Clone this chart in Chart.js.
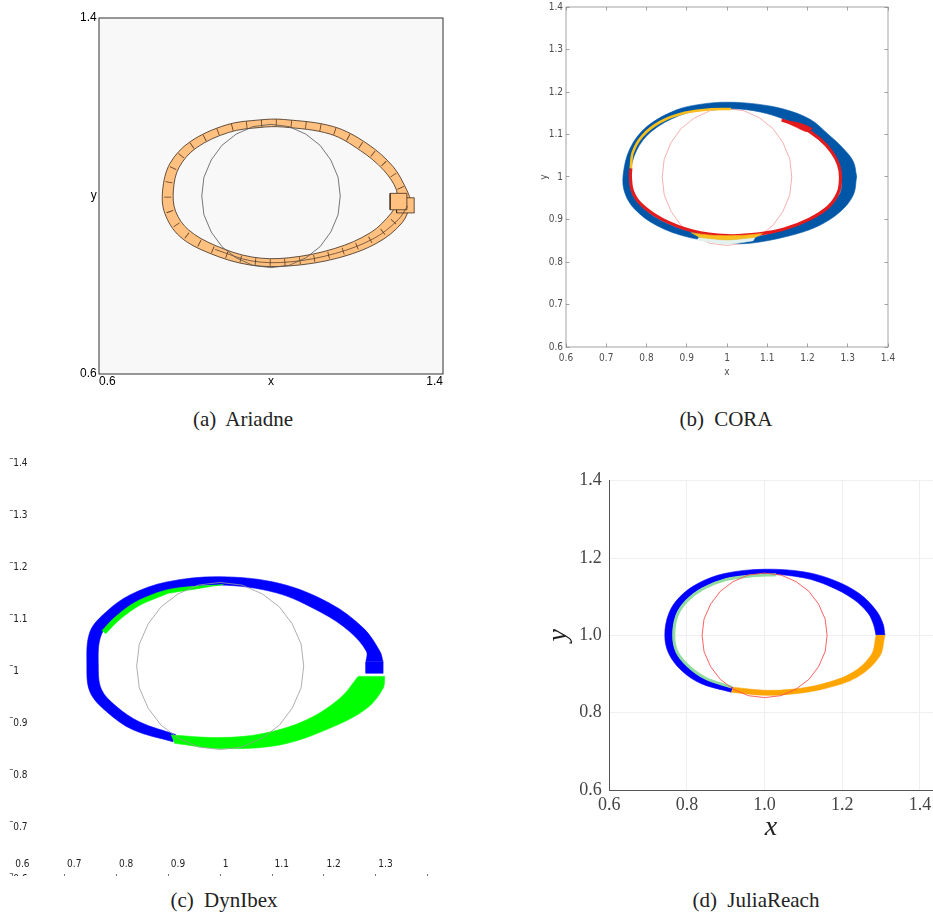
<!DOCTYPE html>
<html>
<head>
<meta charset="utf-8">
<script src="https://cdn.jsdelivr.net/npm/chart.js@4.4.1/dist/chart.umd.min.js"></script>
<style>
  body { margin: 0; background: #fff; width: 933px; height: 916px; position: relative; overflow: hidden; }
  canvas { position: absolute; }
  .caption { position: absolute; width: 240px; font-family: 'Liberation Serif', serif; font-size: 21px; line-height: 24px;
             color: #222; text-align: center; word-spacing: 5px; white-space: nowrap; }
</style>
</head>
<body>
<canvas id="ariadne" width="470" height="395" style="left:0;top:0"></canvas>
<canvas id="cora" width="400" height="390" style="left:520px;top:0"></canvas>
<canvas id="dynibex" width="430" height="436" style="left:0;top:440px"></canvas>
<canvas id="juliareach" width="403" height="391" style="left:530px;top:455px"></canvas>
<div class="caption" style="left:123px;top:407px">(a) Ariadne</div>
<div class="caption" style="left:606px;top:407px">(b) CORA</div>
<div class="caption" style="left:104px;top:888px">(c) DynIbex</div>
<div class="caption" style="left:636px;top:888px">(d) JuliaReach</div>
<script>
// initial set, the same circle in every panel
const circle = [[1.161,1.000],[1.156,1.042],[1.139,1.081],[1.114,1.114],[1.081,1.139],[1.042,1.156],[1.000,1.161],[0.958,1.156],
  [0.919,1.139],[0.886,1.114],[0.861,1.081],[0.844,1.042],[0.839,1.000],[0.844,0.958],[0.861,0.919],[0.886,0.886],[0.919,0.861],
  [0.958,0.844],[1.000,0.839],[1.042,0.844],[1.081,0.861],[1.114,0.886],[1.139,0.919],[1.156,0.958],[1.161,1.000]];

// (a) Ariadne
const ariadneTicks = [0.6, 1.0, 1.4];
const ariadneXLabels = ['0.6', 'x', '1.4'];
const ariadneYLabels = ['0.6', 'y', '1.4'];
const ariadneOuter = [[1.327,0.985],[1.316,1.013],[1.284,1.066],[1.223,1.118],[1.145,1.156],[1.029,1.172],[0.974,1.171],[0.897,1.160],
  [0.812,1.122],[0.765,1.073],[0.748,1.013],[0.753,0.961],[0.788,0.909],[0.858,0.871],[0.951,0.845],[1.044,0.843],[1.153,0.860],
  [1.246,0.894],[1.305,0.940],[1.327,0.985]];
const ariadneInner = [[1.290,0.985],[1.292,1.013],[1.262,1.058],[1.208,1.102],[1.138,1.139],[1.029,1.155],[0.974,1.154],[0.902,1.143],
  [0.826,1.108],[0.786,1.064],[0.773,1.013],[0.778,0.966],[0.808,0.924],[0.870,0.889],[0.955,0.863],[1.040,0.861],[1.148,0.882],
  [1.232,0.918],[1.280,0.962],[1.290,0.985]];
const ariadneBoxA = [[1.277,0.969],[1.316,0.969],[1.316,1.006],[1.277,1.006],[1.277,0.969]];
const ariadneBoxB = [[1.292,0.962],[1.333,0.962],[1.333,0.996],[1.292,0.996],[1.292,0.962]];
const ariadneFold = [[1.318,0.978],[1.296,0.947],[1.240,0.905],[1.150,0.871],[1.045,0.852],[0.955,0.854],[0.870,0.880]];

// (b) CORA
const coraOuter = [[1.322,1.001],[1.314,1.036],[1.289,1.067],[1.252,1.100],[1.206,1.136],[1.140,1.160],[1.070,1.172],[1.000,1.176],
  [0.941,1.172],[0.875,1.158],[0.800,1.118],[0.759,1.067],[0.742,1.005],[0.746,0.963],[0.770,0.925],[0.825,0.886],[0.905,0.858],
  [1.000,0.845],[1.057,0.844],[1.148,0.860],[1.223,0.883],[1.281,0.918],[1.314,0.958],[1.322,1.001]];
const coraInner = [[1.286,1.001],[1.279,1.030],[1.262,1.058],[1.232,1.085],[1.192,1.112],[1.130,1.140],[1.066,1.156],[1.000,1.161],
  [0.942,1.158],[0.880,1.144],[0.812,1.107],[0.775,1.062],[0.759,1.005],[0.762,0.966],[0.784,0.934],[0.835,0.898],[0.910,0.871],
  [1.000,0.858],[1.057,0.857],[1.140,0.876],[1.205,0.900],[1.250,0.930],[1.281,0.962],[1.286,1.001]];
const coraRed = [[1.136,1.134],[1.185,1.118],[1.230,1.090],[1.260,1.059],[1.277,1.029],[1.282,1.000],[1.277,0.965],[1.252,0.930],
  [1.205,0.901],[1.140,0.877],[1.080,0.866],[1.000,0.862],[0.915,0.873],[0.838,0.901],[0.786,0.936],[0.765,0.967],[0.760,1.000],[0.761,1.020]];
const coraSpike = [[1.136,1.134],[1.180,1.127],[1.212,1.114],[1.196,1.107],[1.170,1.118],[1.136,1.134]];
const coraYellow = [[0.761,1.020],[0.766,1.058],[0.790,1.097],[0.835,1.130],[0.895,1.151],[0.955,1.159],[1.010,1.160]];
const coraLensTop = [[0.910,0.869],[0.960,0.863],[1.000,0.862],[1.045,0.863],[1.088,0.867]];
const coraLensBottom = [[0.930,0.858],[1.000,0.852],[1.070,0.858]];
const coraGapBottom = [[0.925,0.852],[1.000,0.842],[1.065,0.850]];

// (c) DynIbex
const dynBox = [[1.281,0.986],[1.314,0.986],[1.314,1.008],[1.281,1.008],[1.281,0.986]];
const dynBlueOuter = [[1.314,1.008],[1.308,1.028],[1.276,1.073],[1.211,1.121],[1.115,1.159],[1.000,1.172],[0.897,1.162],[0.826,1.137],
  [0.781,1.105],[0.749,1.066],[0.743,1.002],[0.749,0.950],[0.781,0.912],[0.832,0.877],[0.909,0.854]];
const dynBlueInner = [[1.281,1.008],[1.282,1.028],[1.250,1.066],[1.195,1.103],[1.108,1.141],[1.000,1.156],[0.903,1.147],[0.838,1.123],
  [0.797,1.093],[0.770,1.058],[0.765,1.002],[0.771,0.955],[0.800,0.922],[0.845,0.892],[0.914,0.868]];
const dynGreenOuter = [[0.912,0.851],[1.000,0.841],[1.115,0.848],[1.211,0.880],[1.282,0.918],[1.314,0.957],[1.317,0.980]];
const dynGreenInner = [[0.905,0.867],[1.000,0.862],[1.083,0.870],[1.166,0.896],[1.231,0.938],[1.266,0.980]];
const dynStripOuter = [[0.772,1.068],[0.797,1.094],[0.838,1.124],[0.903,1.148],[1.006,1.157]];
const dynStripInner = [[0.779,1.062],[0.807,1.090],[0.845,1.117],[0.900,1.140]];

// (d) JuliaReach
const juliaOuter = [[1.310,1.000],[1.305,1.030],[1.287,1.065],[1.244,1.108],[1.180,1.142],[1.103,1.164],[1.000,1.171],[0.897,1.160],
  [0.828,1.134],[0.781,1.099],[0.753,1.056],[0.743,1.000],[0.753,0.953],[0.786,0.909],[0.837,0.875],[0.914,0.853],[1.000,0.845],
  [1.077,0.849],[1.154,0.862],[1.239,0.892],[1.296,0.945],[1.310,1.000]];
const juliaInner = [[1.287,1.000],[1.281,1.027],[1.266,1.058],[1.228,1.094],[1.170,1.126],[1.100,1.149],[1.000,1.158],[0.903,1.147],
  [0.840,1.124],[0.797,1.092],[0.771,1.052],[0.763,1.000],[0.771,0.958],[0.800,0.920],[0.846,0.889],[0.918,0.866],[1.000,0.858],
  [1.075,0.861],[1.148,0.874],[1.225,0.903],[1.275,0.950],[1.287,1.000]];
const juliaSplit = 15;
const juliaGreen = [[1.030,1.157],[0.960,1.153],[0.900,1.144],[0.840,1.120],[0.799,1.088],[0.774,1.050],[0.766,1.000],[0.774,0.958],
  [0.803,0.921],[0.848,0.889],[0.915,0.866]];

const narrow = "'Liberation Sans Narrow', 'DejaVu Sans Condensed', 'Liberation Sans', sans-serif";
const fmtTick = v => String(+v.toFixed(2));

function pts(list) {
  return list.map(p => ({x: p[0], y: p[1]}));
}
// closed region: outer edge forward, inner edge back
function band(outer, inner) {
  const o = pts(outer);
  const i = pts(inner).reverse();
  return o.concat([o[o.length - 1], i[0]], i);
}
function area(data, color, order, extra) {
  return Object.assign({type: 'line', data: data, fill: 'shape', backgroundColor: color, borderColor: color,
    borderWidth: 0.6, tension: 0.35, pointRadius: 0, order: order}, extra || {});
}
function curve(data, color, width, order, extra) {
  return Object.assign({type: 'line', data: data, fill: false, borderColor: color, borderWidth: width,
    tension: 0.35, pointRadius: 0, order: order}, extra || {});
}
function ring(color, width, order) {
  return curve(pts(circle), color, width, order, {tension: 0});
}
function fixSize(size) {
  return function (scale) {
    if (scale.isHorizontal()) scale.height = size; else scale.width = size;
    scale.paddingLeft = 0; scale.paddingRight = 0; scale.paddingTop = 0; scale.paddingBottom = 0;
  };
}
function baseOptions(padding, scales, frame) {
  return {
    responsive: false, animation: false, events: [],
    layout: {autoPadding: false, padding: padding},
    plugins: {legend: {display: false}, tooltip: {enabled: false}, frame: frame || {}},
    scales: scales
  };
}

// plot background and box
Chart.register({
  id: 'frame',
  beforeDraw(chart, args, opts) {
    if (!opts.background) return;
    const a = chart.chartArea, ctx = chart.ctx;
    ctx.save();
    ctx.fillStyle = opts.background;
    ctx.fillRect(a.left, a.top, a.right - a.left, a.bottom - a.top);
    ctx.restore();
  },
  afterDatasetsDraw(chart, args, opts) {
    if (!opts.color) return;
    const a = chart.chartArea, ctx = chart.ctx;
    ctx.save();
    ctx.strokeStyle = opts.color;
    ctx.lineWidth = opts.width || 1;
    ctx.strokeRect(a.left, a.top, a.right - a.left, a.bottom - a.top);
    ctx.restore();
  }
});

// ---------- (a) Ariadne ----------
const ariadneMid = ariadneOuter.map((p, k) => [(p[0] + ariadneInner[k][0]) / 2, (p[1] + ariadneInner[k][1]) / 2]);
const ariadneFont = {family: "'Liberation Sans', Arial, sans-serif", size: 12};
const boxStyle = {borderColor: '#3d2b1a', borderWidth: 0.8, tension: 0};
new Chart(document.getElementById('ariadne'), {
  type: 'line',
  data: {datasets: [
    ring('#555', 0.8, 0),
    curve(pts(ariadneFold), '#4a3320', 0.7, 1),
    area(pts(ariadneBoxA), '#ffc080', 2, boxStyle),
    area(pts(ariadneBoxB), '#ffc080', 2.5, boxStyle),
    curve(pts(ariadneMid), 'rgba(60,40,22,0.85)', 7, 3, {borderDash: [0.8, 14]}),
    area(band(ariadneOuter, ariadneInner), '#ffc080', 4, {borderColor: '#3d2b1a', borderWidth: 0.8})
  ]},
  options: baseOptions({left: 69, right: 27, top: 18, bottom: 1}, {
    x: {type: 'linear', min: 0.6, max: 1.4, afterFit: fixSize(20),
        afterBuildTicks: s => { s.ticks = ariadneTicks.map(v => ({value: v})); },
        grid: {display: false, drawTicks: false}, border: {display: false},
        ticks: {align: 'inner', padding: 0, color: '#000', font: ariadneFont, autoSkip: false,
                callback: (v, i) => ariadneXLabels[i]}},
    y: {type: 'linear', min: 0.6, max: 1.4, afterFit: fixSize(30),
        afterBuildTicks: s => { s.ticks = ariadneTicks.map(v => ({value: v})); },
        grid: {display: false, drawTicks: false}, border: {display: false},
        ticks: {padding: 2.3, color: '#000', font: ariadneFont, autoSkip: false,
                callback: (v, i) => ariadneYLabels[i]}}
  }, {background: '#f8f8f8', color: '#333', width: 1})
});

// ---------- (b) CORA ----------
const coraFont = {family: narrow, size: 10};
const coraGrid = {drawOnChartArea: false, drawTicks: true, tickLength: -3.5, color: '#8c8c8c', lineWidth: 0.8};
new Chart(document.getElementById('cora'), {
  type: 'line',
  data: {datasets: [
    area(band(coraLensTop, coraLensBottom), '#fbbf1d', 1, {tension: 0.3}),
    area(band(coraLensBottom, coraGapBottom), '#e3f1ef', 2, {tension: 0.3}),
    area(pts(coraSpike), '#e41a1c', 2.5, {tension: 0.2}),
    curve(pts(coraRed), '#e41a1c', 3.2, 3),
    curve(pts(coraYellow), '#fbbf1d', 2.6, 3),
    area(band(coraOuter, coraInner), '#0057a8', 5),
    ring('#f3a7a7', 0.9, 8)
  ]},
  options: baseOptions({left: 18, right: 32, top: 7, bottom: 12}, {
    x: {type: 'linear', min: 0.6, max: 1.4, afterFit: fixSize(31), grid: coraGrid, border: {display: false},
        ticks: {stepSize: 0.1, padding: 8.5, color: '#4d4d4d', font: coraFont, callback: fmtTick, autoSkip: false},
        title: {display: true, text: 'x', color: '#4d4d4d', font: coraFont, padding: 0}},
    y: {type: 'linear', min: 0.6, max: 1.4, afterFit: fixSize(28), grid: coraGrid, border: {display: false},
        ticks: {stepSize: 0.1, padding: 6.5, color: '#4d4d4d', font: coraFont, callback: fmtTick, autoSkip: false},
        title: {display: true, text: 'y', color: '#4d4d4d', font: coraFont, padding: 0}},
    x2: {type: 'linear', position: 'top', min: 0.6, max: 1.4, afterFit: fixSize(0), grid: coraGrid,
         border: {display: false}, ticks: {stepSize: 0.1, display: false}},
    y2: {type: 'linear', position: 'right', min: 0.6, max: 1.4, afterFit: fixSize(0), grid: coraGrid,
         border: {display: false}, ticks: {stepSize: 0.1, display: false}}
  }, {color: '#8c8c8c', width: 0.8})
});

// ---------- (c) DynIbex ----------
const dynFont = {family: narrow, size: 10};
new Chart(document.getElementById('dynibex'), {
  type: 'line',
  data: {datasets: [
    ring('#9a9a9a', 0.8, 0),
    area(band(dynStripOuter, dynStripInner), '#00ff00', 1, {tension: 0.3}),
    area(band(dynGreenOuter, dynGreenInner), '#00ff00', 2),
    area(pts(dynBox), '#0000ff', 3, {tension: 0}),
    area(band(dynBlueOuter, dynBlueInner), '#0000ff', 4)
  ]},
  options: baseOptions({left: 9.7, right: 2.3, top: 18.4, bottom: 0}, {
    x: {type: 'linear', min: 0.6, max: 1.4, afterFit: fixSize(2.4), border: {display: false},
        grid: {drawOnChartArea: false, drawTicks: true, tickLength: 3, color: '#777', lineWidth: 1},
        ticks: {stepSize: 0.1, mirror: true, align: 'start', labelOffset: 2.5, padding: 3.3, color: '#222',
                font: dynFont, callback: fmtTick, autoSkip: false}},
    y: {type: 'linear', min: 0.6, max: 1.4, afterFit: fixSize(3), border: {display: false},
        grid: {drawOnChartArea: false, drawTicks: true, tickLength: 3, color: '#777', lineWidth: 1},
        ticks: {stepSize: 0.1, mirror: true, labelOffset: 5.5, padding: 0.5, color: '#222',
                font: dynFont, callback: fmtTick, autoSkip: false}}
  })
});

// ---------- (d) JuliaReach ----------
const juliaFont = {family: "'Liberation Serif', serif", size: 18};
const juliaTitle = {family: "'Liberation Serif', serif", size: 28, style: 'italic'};
const juliaGrid = {color: '#efefef', lineWidth: 1, drawTicks: false};
new Chart(document.getElementById('juliareach'), {
  type: 'line',
  data: {datasets: [
    ring('#ff5050', 0.9, 0),
    curve(pts(juliaGreen), '#90dca0', 3, 1),
    area(band(juliaOuter.slice(juliaSplit), juliaInner.slice(juliaSplit)), '#ffa500', 2),
    area(band(juliaOuter.slice(0, juliaSplit + 1), juliaInner.slice(0, juliaSplit + 1)), '#0000ff', 3)
  ]},
  options: baseOptions({left: 12.2, right: 0.3, top: 25.7, bottom: 1.2}, {
    x: {type: 'linear', min: 0.6, max: 1.433, afterFit: fixSize(54.8), grid: juliaGrid,
        border: {display: true, color: '#555', width: 1},
        ticks: {stepSize: 0.2, includeBounds: false, padding: 4.2, color: '#444', font: juliaFont,
                callback: v => v.toFixed(1), autoSkip: false},
        title: {display: true, text: 'x', color: '#222', font: juliaTitle, padding: 0}},
    y: {type: 'linear', min: 0.6, max: 1.4, afterFit: fixSize(67.1), grid: juliaGrid,
        border: {display: true, color: '#555', width: 1},
        ticks: {stepSize: 0.2, includeBounds: false, padding: 7.6, color: '#444', font: juliaFont,
                callback: v => v.toFixed(1), autoSkip: false},
        title: {display: true, text: 'y', color: '#222', font: juliaTitle, padding: 0}}
  })
});
</script>
</body>
</html>
